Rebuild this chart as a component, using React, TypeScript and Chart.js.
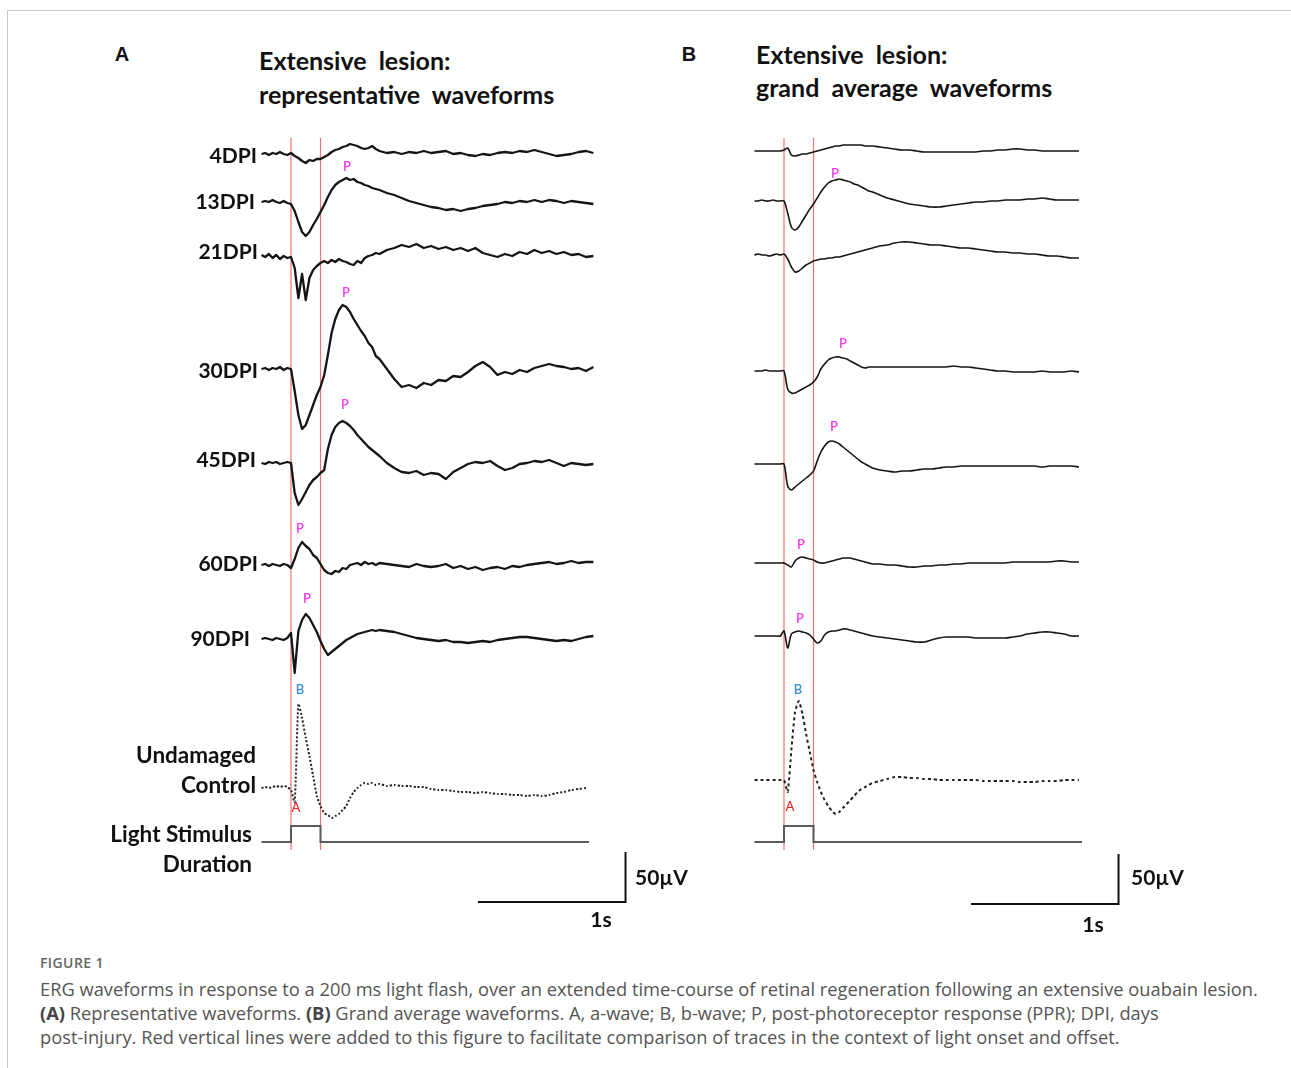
import React, { useEffect, useRef } from "react";
import { Chart, registerables } from "chart.js";
Chart.register(...registerables);

// ---------- DATA ----------
// time grid (s), light onset at 0
const timeGrid = [-0.2, -0.175, -0.15, -0.125, -0.1, -0.075, -0.05, -0.025, 0, 0.025, 0.05, 0.075, 0.1, 0.125, 0.15, 0.175, 0.2, 0.225, 0.25, 0.275, 0.3, 0.325, 0.35, 0.375, 0.4, 0.425, 0.45, 0.475, 0.5, 0.525, 0.55, 0.575, 0.6, 0.65, 0.7, 0.75, 0.8, 0.85, 0.9, 0.95, 1.0, 1.05, 1.1, 1.15, 1.2, 1.25, 1.3, 1.35, 1.4, 1.45, 1.5, 1.55, 1.6, 1.65, 1.7, 1.75, 1.8, 1.85, 1.9, 1.95, 2.0, 2.05];

const traceLabels = ["4DPI", "13DPI", "21DPI", "30DPI", "45DPI", "60DPI", "90DPI"];

// Panel A: representative waveforms (µV)
const repA4 = [0, 1, -1, 1, 0, 2, 0, -1, 1, -2, -4, -7, -9, -6, -7, -5, -5, -3, -1, 2, 4, 5, 7, 8, 10, 9, 8, 6, 5, 6, 8, 5, 3, 1, 2, 0, 2, 1, 3, 1, 2, 3, 0, 1, -1, -2, 0, -1, 1, 2, 1, 3, 2, 4, 2, 0, -2, -1, 0, 2, 3, 1];
const repA13 = [0, 1, 0, 2, 0, -1, 1, -1, -2, -9, -20, -30, -34, -30, -23, -17, -10, -3, 5, 12, 17, 20, 22, 24, 22, 23, 20, 19, 17, 16, 14, 13, 12, 9, 7, 4, 1, -1, -3, -5, -6, -8, -7, -9, -7, -6, -4, -3, -2, 0, -1, 1, 0, 2, 0, 2, 1, -1, 1, 0, -1, -2];
const repA21 = [1, -1, 2, -2, 1, -3, 0, -2, -1, -12, -42, -18, -44, -22, -14, -10, -7, -5, -7, -4, -6, -3, -5, -6, -8, -9, -5, -7, -2, 0, 1, 3, 2, 6, 8, 11, 9, 12, 8, 10, 7, 9, 6, 8, 5, 8, 3, 1, -1, 2, 0, 4, 2, 6, 3, 5, 2, 4, 1, 2, -1, 0];
const repA30 = [0, 1, -1, 1, 0, 2, -1, 1, 0, -22, -46, -60, -56, -46, -36, -26, -18, -6, 14, 36, 50, 59, 64, 62, 57, 50, 44, 38, 33, 26, 22, 13, 10, 0, -10, -18, -16, -19, -14, -16, -11, -12, -7, -8, -3, 3, 7, 2, -6, -3, -5, -1, -3, 1, 3, 5, 3, 2, 0, 1, -2, 2];
const repA45 = [0, -1, 1, 0, 1, -1, 0, 1, 0, -30, -42, -36, -29, -22, -17, -14, -10, -7, 14, 28, 36, 40, 42, 40, 37, 33, 28, 24, 20, 16, 13, 10, 7, 0, -5, -9, -10, -8, -12, -10, -11, -16, -9, -5, -1, 1, 0, 2, -3, -7, -5, -1, 0, 2, 1, 3, 0, -3, 0, -1, -2, -1];
const repA60 = [0, 1, -1, 1, 0, -1, 1, 0, -3, 6, 17, 23, 19, 16, 10, 7, 1, -5, -8, -9, -6, -7, -3, -4, 0, 1, 2, 0, 3, 1, 2, 0, 2, 1, 0, -1, -2, 1, -1, -2, -1, 1, -3, -1, -4, -2, -5, -3, -2, -4, -1, -2, 0, 1, 2, 3, 1, 2, 4, 2, 3, 3];
const repA90 = [0, 1, 0, -1, 1, 0, -1, 1, 6, -34, 8, 19, 25, 21, 14, 7, -2, -10, -16, -13, -10, -7, -4, -1, 1, 3, 5, 6, 7, 8, 9, 8, 9, 8, 7, 5, 3, 1, 0, -1, -2, -1, -3, -3, -4, -3, -2, -3, -1, 0, 1, 2, 2, 1, 0, -1, -2, -1, -2, 0, 2, 3];
const repAControl = [0, 1, 0, 1, 2, 1, 2, 1, -2, -14, 84, 70, 50, 32, 12, -8, -18, -25, -27, -30, -28, -26, -22, -18, -10, -4, 0, 3, 5, 4, 5, 3, 4, 2, 3, 2, 2, 1, 1, -1, -2, -2, -3, -4, -4, -5, -4, -5, -6, -6, -7, -7, -8, -7, -8, -7, -5, -4, -2, -1, 0];

// Panel B: grand average waveforms (µV)
const avgB4 = [0, 0, 0, 0, 0, 0, 0, 0, 1, 3, -4, -5, -4, -3, -3, -2, -1, 0, 1, 2, 3, 4, 5, 5, 6, 6, 6, 6, 6, 6, 5, 5, 5, 4, 3, 2, 1, 1, 0, -1, -1, -1, -1, -1, -1, -1, -1, 0, 0, 1, 1, 2, 2, 1, 1, 0, 0, 0, 0, 0, 0];
const avgB13 = [0, 0, 1, 0, 0, 1, 0, 0, 0, -12, -26, -29, -26, -20, -14, -8, -3, 3, 9, 14, 18, 20, 21, 22, 21, 20, 19, 17, 16, 14, 12, 10, 9, 6, 3, 1, -1, -3, -4, -5, -6, -6, -5, -4, -3, -2, -1, -1, 0, 0, 1, 1, 1, 2, 2, 3, 2, 1, 1, 1, 1];
const avgB21 = [0, 1, 0, 0, -1, 0, 1, 0, 1, -4, -12, -17, -16, -13, -10, -8, -6, -5, -4, -4, -3, -3, -2, -2, -1, 0, 1, 2, 3, 4, 5, 6, 7, 9, 10, 12, 13, 13, 12, 11, 10, 10, 9, 8, 7, 7, 6, 5, 4, 3, 3, 2, 2, 1, 1, 0, -1, -1, -2, -3, -3];
const avgB30 = [0, 0, 0, 1, 0, 0, 0, 0, 0, -18, -22, -22, -20, -18, -16, -14, -11, -6, 2, 7, 11, 13, 14, 14, 13, 12, 10, 8, 6, 4, 3, 4, 4, 4, 4, 4, 4, 4, 4, 4, 4, 4, 4, 5, 4, 4, 3, 2, 1, 0, 0, -1, -1, -1, -1, 0, -1, -1, -1, 0, -1];
const avgB45 = [0, 0, 0, 0, 0, 0, 0, 0, 0, -22, -26, -23, -20, -17, -14, -11, -7, 3, 12, 18, 22, 23, 22, 20, 17, 14, 11, 8, 5, 2, 0, -2, -4, -6, -7, -8, -7, -7, -6, -5, -5, -4, -3, -3, -2, -2, -2, -2, -2, -2, -2, -2, -2, -2, -2, -3, -2, -2, -2, -2, -3];
const avgB60 = [0, 0, 0, 0, 0, 0, 0, 0, 0, -2, -4, 2, 5, 6, 5, 4, 3, 1, 0, 0, 1, 2, 3, 4, 5, 5, 5, 4, 3, 2, 1, 0, -1, -1, -2, -2, -3, -4, -4, -3, -3, -2, -2, -1, -1, 0, 0, 0, 0, 0, 0, 1, 1, 1, 1, 1, 1, 2, 2, 1, 1];
const avgB90 = [0, 0, 0, 0, 0, 0, 0, 0, 5, -12, 2, 4, 5, 4, 3, 1, -3, -7, -5, 1, 4, 5, 5, 6, 7, 7, 6, 5, 4, 3, 2, 1, 0, -1, -2, -3, -4, -5, -6, -6, -4, -2, -1, -1, -1, -1, -2, -2, -2, -2, -2, -1, 0, 2, 3, 4, 4, 3, 2, 0, 0];
const avgBControl = [0, 0, 0, 0, 0, 0, 0, 0, 0, -12, 30, 68, 79, 66, 46, 28, 10, -2, -12, -20, -26, -31, -34, -32, -28, -24, -20, -16, -12, -9, -7, -5, -3, -1, 1, 3, 3, 2, 2, 1, 1, 0, 0, 0, 0, 0, 0, -1, -1, -1, -1, -1, -2, -2, -2, -1, -1, -1, 0, 0, 0];

// light stimulus (200 ms flash)
const stimTimes = [-0.2, 0, 0, 0.2, 0.2, 2.02];
const stimLevels = [0, 0, 16, 16, 0, 0];
const flashOnset = 0;
const flashOffset = 0.2;
const scaleBarSeconds = 1;
const scaleBarMicrovolts = 50;

// ---------- LAYOUT ----------
const X_MIN = -0.4;
const X_MAX = 2.4;
const Y_MAX = 800;
const CANVAS_W = 413;
const CANVAS_H = 800;
const CANVAS_TOP = 120;

const panelA = {
  left: 232,
  series: [repA4, repA13, repA21, repA30, repA45, repA60, repA90],
  bases: [766, 718, 664, 551, 457, 355, 281],
  control: repAControl,
  controlBase: 132,
  stimBase: 78,
  barStart: 1.268,
  barBase: 18,
  lineWidth: 2.3,
  tension: 0,
  dash: [2, 2],
};
const panelB = {
  left: 725,
  series: [avgB4, avgB13, avgB21, avgB30, avgB45, avgB60, avgB90],
  bases: [769, 719, 665, 549, 456, 357, 284],
  control: avgBControl,
  controlBase: 140,
  stimBase: 78,
  barStart: 1.268,
  barBase: 16,
  lineWidth: 1.6,
  tension: 0.3,
  dash: [3, 3],
};

function Panel({ cfg }: { cfg: typeof panelA }) {
  const ref = useRef<HTMLCanvasElement>(null);
  useEffect(() => {
    if (!ref.current) return;
    const ds: any[] = [];
    cfg.series.forEach((vals, k) => {
      ds.push({
        label: traceLabels[k],
        data: vals.map((v, i) => ({ x: timeGrid[i], y: v + cfg.bases[k] })),
        borderColor: "#151515",
        borderWidth: cfg.lineWidth,
        tension: cfg.tension,
        borderJoinStyle: "round",
        pointRadius: 0,
      });
    });
    ds.push({
      label: "Undamaged Control",
      data: cfg.control.map((v, i) => ({ x: timeGrid[i], y: v + cfg.controlBase })),
      borderColor: "#222",
      borderWidth: 2,
      borderDash: cfg.dash,
      tension: 0.2,
      pointRadius: 0,
    });
    ds.push({
      label: "Light Stimulus",
      data: stimTimes.map((t, i) => ({ x: t, y: stimLevels[i] + cfg.stimBase })),
      borderColor: "#5a5a5a",
      borderWidth: 2,
      tension: 0,
      pointRadius: 0,
    });
    ds.push({
      label: "scale",
      data: [
        { x: cfg.barStart, y: cfg.barBase },
        { x: cfg.barStart + scaleBarSeconds, y: cfg.barBase },
        { x: cfg.barStart + scaleBarSeconds, y: cfg.barBase + scaleBarMicrovolts },
      ],
      borderColor: "#111",
      borderWidth: 2,
      tension: 0,
      pointRadius: 0,
    });
    [flashOnset, flashOffset].forEach((t) => {
      ds.push({
        label: "flash",
        data: [
          { x: t, y: 70 },
          { x: t, y: 782 },
        ],
        borderColor: "rgba(236,90,90,0.85)",
        borderWidth: 1.2,
        pointRadius: 0,
      });
    });
    const chart = new Chart(ref.current, {
      type: "line",
      data: { datasets: ds },
      options: {
        animation: false,
        responsive: false,
        maintainAspectRatio: false,
        layout: { padding: 0 },
        parsing: false as any,
        normalized: true,
        plugins: { legend: { display: false }, tooltip: { enabled: false } },
        scales: {
          x: { type: "linear", min: X_MIN, max: X_MAX, display: false },
          y: { type: "linear", min: 0, max: Y_MAX, display: false },
        },
        elements: { point: { radius: 0 } },
      },
    });
    return () => chart.destroy();
  }, [cfg]);
  return (
    <canvas
      ref={ref}
      width={CANVAS_W}
      height={CANVAS_H}
      style={{ position: "absolute", left: cfg.left, top: CANVAS_TOP, width: CANVAS_W, height: CANVAS_H }}
    />
  );
}

type LblProps = { x: number; y: number; text: React.ReactNode; align?: "l" | "r" | "c"; size?: number; color?: string; weight?: number; font?: string; extra?: React.CSSProperties };
function Lbl({ x, y, text, align = "l", size = 21, color = "#111", weight = 700, font = "Lato, 'Open Sans', sans-serif", extra = {} }: LblProps) {
  const tx = align === "l" ? "0" : align === "r" ? "-100%" : "-50%";
  return (
    <div
      style={{
        position: "absolute",
        left: x,
        top: y,
        transform: `translate(${tx}, -50%)`,
        fontFamily: font,
        fontSize: size,
        fontWeight: weight,
        color,
        whiteSpace: "nowrap",
        lineHeight: 1,
        ...extra,
      }}
    >
      {text}
    </div>
  );
}

const MAG = "#f23cf0";
const BLUE = "#3c8fd6";
const RED = "#f02020";
const TITLE_EXTRA: React.CSSProperties = { wordSpacing: 6 };

export default function App() {
  return (
    <div style={{ position: "absolute", left: 0, top: 0, width: 1291, height: 1068, overflow: "hidden", background: "#fff" }}>
      <div style={{ position: "absolute", left: 7, top: 10, width: 1284, height: 1058, borderTop: "1px solid #c8c8c8", borderLeft: "1px solid #c8c8c8" }} />
      <Panel cfg={panelA} />
      <Panel cfg={panelB as any} />

      {/* panel letters & titles */}
      <Lbl x={122} y={54} text="A" align="c" size={20} font="'Liberation Sans', Arial, sans-serif" />
      <Lbl x={689} y={54} text="B" align="c" size={20} font="'Liberation Sans', Arial, sans-serif" />
      <Lbl x={259} y={60} text="Extensive lesion:" size={25} extra={TITLE_EXTRA} />
      <Lbl x={259} y={94} text="representative waveforms" size={25} extra={TITLE_EXTRA} />
      <Lbl x={756} y={54} text="Extensive lesion:" size={25} extra={TITLE_EXTRA} />
      <Lbl x={756} y={87} text="grand average waveforms" size={25} extra={TITLE_EXTRA} />

      {/* trace labels panel A */}
      <Lbl x={257} y={154} text={traceLabels[0]} align="r" />
      <Lbl x={255} y={200} text={traceLabels[1]} align="r" />
      <Lbl x={258} y={250} text={traceLabels[2]} align="r" />
      <Lbl x={258} y={369} text={traceLabels[3]} align="r" />
      <Lbl x={256} y={458} text={traceLabels[4]} align="r" />
      <Lbl x={258} y={562} text={traceLabels[5]} align="r" />
      <Lbl x={250} y={637} text={traceLabels[6]} align="r" />
      <Lbl x={256} y={755} text="Undamaged" align="r" size={22.5} />
      <Lbl x={256} y={785} text="Control" align="r" size={22.5} />
      <Lbl x={252} y={834} text="Light Stimulus" align="r" size={22.5} />
      <Lbl x={252} y={864} text="Duration" align="r" size={22.5} />

      {/* P markers */}
      {[[347, 166], [346, 292], [345, 404], [300, 528], [307, 598], [835, 173], [843, 343], [834, 426], [801, 544], [800, 618]].map(([x, y], i) => (
        <Lbl key={"p" + i} x={x} y={y} text="P" align="c" size={13} color={MAG} weight={600} />
      ))}
      <Lbl x={300} y={689} text="B" align="c" size={13} color={BLUE} weight={600} />
      <Lbl x={798} y={689} text="B" align="c" size={13} color={BLUE} weight={600} />
      <Lbl x={296} y={807} text="A" align="c" size={13} color={RED} weight={500} />
      <Lbl x={790} y={806} text="A" align="c" size={13} color={RED} weight={500} />

      {/* scale bar labels */}
      <Lbl x={635} y={876} text="50µV" size={21} />
      <Lbl x={1131} y={876} text="50µV" size={21} />
      <Lbl x={601} y={918} text="1s" align="c" size={21} />
      <Lbl x={1093} y={923} text="1s" align="c" size={21} />

      {/* caption */}
      <Lbl x={40} y={963} text="FIGURE 1" size={14} color="#666" weight={600} font="'Open Sans', sans-serif" extra={{ letterSpacing: 0.4 }} />
      <Lbl x={40} y={989} size={18.3} color="#555" weight={400} font="'Open Sans', sans-serif"
        text="ERG waveforms in response to a 200 ms light flash, over an extended time-course of retinal regeneration following an extensive ouabain lesion." />
      <Lbl x={40} y={1013} size={18.3} color="#555" weight={400} font="'Open Sans', sans-serif"
        text={<><b style={{ color: "#444" }}>(A)</b> Representative waveforms. <b style={{ color: "#444" }}>(B)</b> Grand average waveforms. A, a-wave; B, b-wave; P, post-photoreceptor response (PPR); DPI, days</>} />
      <Lbl x={40} y={1037} size={18.3} color="#555" weight={400} font="'Open Sans', sans-serif"
        text="post-injury. Red vertical lines were added to this figure to facilitate comparison of traces in the context of light onset and offset." />
    </div>
  );
}
